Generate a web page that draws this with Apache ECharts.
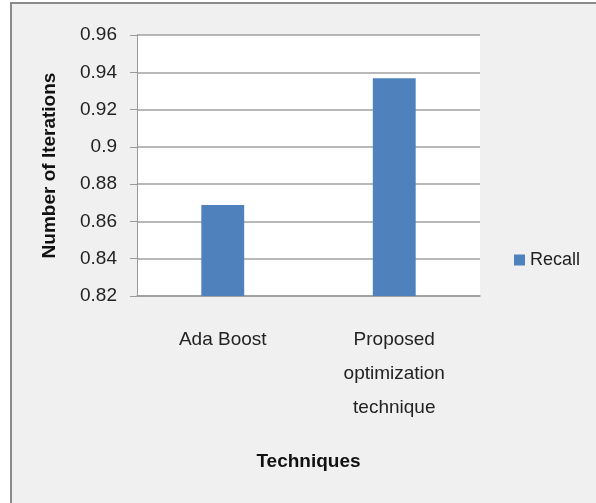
<!DOCTYPE html>
<html>
<head>
<meta charset="utf-8">
<script src="https://cdn.jsdelivr.net/npm/echarts@6/dist/echarts.min.js"></script>
<style>
  html, body { margin: 0; padding: 0; background: #ffffff; }
  #chart { width: 596px; height: 503px; }
</style>
</head>
<body>
<div id="chart"></div>
<script>
// Recall per technique
const categories = ['Ada Boost', 'Proposed\noptimization\ntechnique'];
const recall = [0.8688, 0.9368];
const yTicks = [0.82, 0.84, 0.86, 0.88, 0.9, 0.92, 0.94, 0.96];

const FONT = '"Liberation Sans", "DejaVu Sans", sans-serif';
const chart = echarts.init(document.getElementById('chart'), null, { renderer: 'canvas' });

chart.setOption({
  backgroundColor: '#ffffff',
  animation: false,
  graphic: [{
    type: 'rect',
    z: -10,
    silent: true,
    shape: { x: 11, y: 3, width: 620, height: 540 },
    style: { fill: '#f0f0f0', stroke: '#8a8a8a', lineWidth: 2 }
  }],
  grid: {
    left: 137, right: 116, top: 35, bottom: 207,
    show: true, backgroundColor: '#ffffff', borderWidth: 0
  },
  legend: {
    data: ['Recall'],
    left: 509, top: 246,
    icon: 'rect', itemWidth: 11, itemHeight: 11, itemGap: 6,
    textStyle: { fontFamily: FONT, fontSize: 18, color: '#222' }
  },
  xAxis: {
    type: 'category',
    data: categories,
    name: 'Techniques',
    nameLocation: 'middle',
    nameGap: 156,
    nameTextStyle: { fontFamily: FONT, fontSize: 19, fontWeight: 'bold', color: '#111' },
    axisLine: { lineStyle: { color: '#999', width: 1.5 } },
    axisTick: { show: false },
    axisLabel: {
      interval: 0, margin: 27, lineHeight: 34,
      fontFamily: FONT, fontSize: 19, color: '#222'
    }
  },
  yAxis: {
    type: 'value',
    min: 0.82, max: 0.96, interval: 0.02,
    name: 'Number of Iterations',
    nameLocation: 'middle',
    nameGap: 78,
    nameTextStyle: { fontFamily: FONT, fontSize: 19, fontWeight: 'bold', color: '#111' },
    axisLine: { show: true, lineStyle: { color: '#999', width: 1 } },
    axisTick: { show: true, length: 7, lineStyle: { color: '#999' } },
    splitLine: { lineStyle: { color: '#a0a0a0', width: 1.5 } },
    axisLabel: {
      margin: 20, fontFamily: FONT, fontSize: 19, color: '#222',
      formatter: v => {
        const t = yTicks.find(k => Math.abs(k - v) < 1e-9);
        return t === undefined ? '' : String(t);
      }
    }
  },
  series: [{
    name: 'Recall',
    type: 'bar',
    data: recall,
    barWidth: '25%',
    itemStyle: { color: '#4f81bd' }
  }]
});
</script>
</body>
</html>
